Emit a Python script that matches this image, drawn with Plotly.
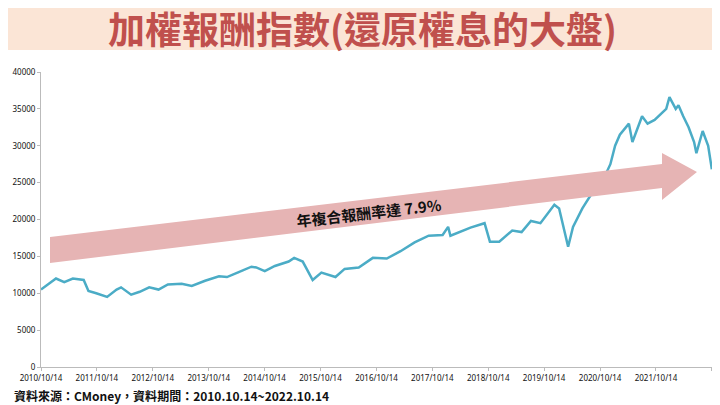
import plotly.graph_objects as go

dates = ["2010-10-14", "2010-12-15", "2011-01-20", "2011-03-15", "2011-05-10", "2011-07-20",
         "2011-08-20", "2011-10-10", "2011-12-20", "2012-02-20", "2012-03-20", "2012-05-25",
         "2012-07-20", "2012-09-20", "2012-11-20", "2013-01-20", "2013-04-20", "2013-06-25",
         "2013-09-20", "2013-12-20", "2014-02-10", "2014-04-20", "2014-07-20", "2014-08-20",
         "2014-10-15", "2014-12-20", "2015-03-20", "2015-04-25", "2015-06-20", "2015-08-24",
         "2015-10-20", "2016-01-20", "2016-03-20", "2016-06-20", "2016-09-20", "2016-12-20",
         "2017-03-20", "2017-06-20", "2017-09-20", "2017-12-20", "2018-01-25", "2018-02-09",
         "2018-06-20", "2018-09-20", "2018-10-25", "2018-12-25", "2019-03-20", "2019-05-20",
         "2019-07-20", "2019-09-20", "2019-12-20", "2020-01-20", "2020-03-19", "2020-04-20",
         "2020-06-20", "2020-08-20", "2020-10-14", "2020-12-20", "2021-01-20", "2021-02-20",
         "2021-04-20", "2021-05-13", "2021-07-15", "2021-08-20", "2021-10-05", "2021-12-20",
         "2022-01-10", "2022-02-20", "2022-03-10", "2022-04-10", "2022-05-15", "2022-06-20",
         "2022-07-05", "2022-08-15", "2022-09-20", "2022-10-14"]
values = [10500, 11500, 12000, 11500, 12000, 11800,
          10300, 10000, 9500, 10500, 10800, 9800,
          10200, 10800, 10500, 11200, 11300, 11000,
          11700, 12300, 12200, 12800, 13600, 13500,
          13000, 13700, 14300, 14800, 14300, 11800,
          12800, 12200, 13300, 13500, 14800, 14700,
          15700, 16900, 17800, 17900, 19000, 17800,
          18900, 19500, 17000, 17000, 18500, 18300,
          19800, 19500, 22000, 21500, 16300, 19000,
          21500, 23500, 24500, 27500, 30000, 31500,
          33000, 30500, 34000, 33000, 33500, 35000,
          36600, 35000, 35500, 34000, 32500, 30500,
          29000, 32000, 30000, 26800]
tick_vals = ["2010-10-14", "2011-10-14", "2012-10-14", "2013-10-14", "2014-10-14", "2015-10-14",
             "2016-10-14", "2017-10-14", "2018-10-14", "2019-10-14", "2020-10-14", "2021-10-14",
             "2022-10-14"]
tick_text = [d.replace("-", "/") for d in tick_vals]

# the page adds an 8px body margin at top/left, so the figure is 8px smaller
O = 8
W, H = 720 - O, 405 - O
L, T, B, R = 41 - O, 72 - O, 38, 8
pw, ph = W - L - R, H - T - B


def px(x, y):
    return (x - O - L) / pw, (H - B - (y - O)) / ph


arrow = [(50, 237), (662, 164), (662, 153), (697, 172), (662, 200), (662, 188), (50, 263)]
path = "M " + " L ".join("%f,%f" % px(x, y) for x, y in arrow) + " Z"

fig = go.Figure()
fig.add_trace(go.Scatter(x=dates, y=values, mode="lines",
                         line=dict(color="#4bacc6", width=2.5), cliponaxis=False))
fig.add_shape(type="path", path=path, xref="paper", yref="paper",
              fillcolor="#e6b4b4", line=dict(width=0), layer="above")
fig.add_shape(type="rect", xref="paper", yref="paper", x0=px(O, 0)[0], x1=px(720, 0)[0],
              y0=px(0, 50)[1], y1=px(0, O)[1], fillcolor="#fbe5d6", line=dict(width=0))
fig.add_annotation(x=px(362, 0)[0], y=px(0, 28)[1], xref="paper", yref="paper", showarrow=False,
                   yanchor="middle", xanchor="center",
                   text="<b>加權報酬指數(還原權息的大盤)</b>",
                   font=dict(family="Noto Sans CJK TC", size=37, color="#c0504d"))
cx, cy = px(368, 212)
fig.add_annotation(x=cx, y=cy, xref="paper", yref="paper", showarrow=False, textangle=-6.5,
                   yanchor="middle", xanchor="center",
                   text="<b>年複合報酬率達 7.9%</b>",
                   font=dict(family="Noto Sans CJK TC", size=15, color="#111"))
sx, sy = px(12, 395)
fig.add_annotation(x=sx, y=sy, xref="paper", yref="paper", showarrow=False, xanchor="left",
                   yanchor="middle",
                   text="<b>資料來源：CMoney，資料期間：2010.10.14~2022.10.14</b>",
                   font=dict(family="Noto Sans CJK TC", size=12, color="#111"))
fig.update_layout(width=W, height=H, margin=dict(l=L, r=R, t=T, b=B, autoexpand=False),
                  plot_bgcolor="white", paper_bgcolor="white", showlegend=False,
                  font=dict(family="Noto Sans", size=8, color="#111"))
fig.update_xaxes(range=["2010-10-14", "2022-10-15"], tickvals=tick_vals, ticktext=tick_text,
                 showgrid=False, showline=True, linecolor="#bbb", ticks="outside",
                 ticklen=3, tickcolor="#bbb", tickangle=0, tickfont=dict(size=8))
fig.update_yaxes(range=[0, 40000], dtick=5000, tickformat="d", showgrid=False, showline=True,
                 linecolor="#bbb", ticks="outside", ticklen=3, tickcolor="#bbb",
                 tickfont=dict(size=8))
fig.write_html("out.html")
